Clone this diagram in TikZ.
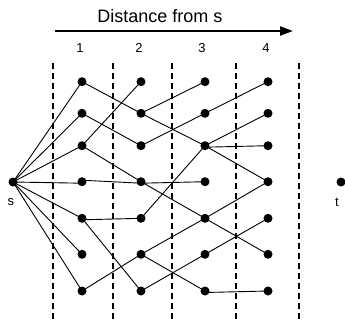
\documentclass[tikz,border=0pt]{standalone}
\usepackage{fontspec}
\setmainfont{Liberation Sans}
\usetikzlibrary{arrows.meta,backgrounds}
\begin{document}
\begin{tikzpicture}[x=1pt,y=-1pt,
  dot/.style={circle,fill=black,inner sep=0pt,minimum size=9pt},
  edge/.style={line width=0.9pt},
  sep/.style={line width=1.3pt,dash pattern=on 6pt off 4pt},
  lab/.style={font=\fontsize{13}{15}\selectfont,inner sep=0pt},
  title/.style={font=\fontsize{18}{20}\selectfont,inner sep=0pt,anchor=base}]
\useasboundingbox (0,0) rectangle (345,322);
% title arrow
\node[title] (ttl) at (160,22.7) {Distance from s};
\coordinate (a0) at (55,31);
\coordinate (a1) at (293,31);
\draw[line width=2pt,-{Triangle[length=13pt,width=9pt]}] (a0) -- (a1);
% column labels
\node[lab] (l1) at (80,48) {1};
\node[lab] (l2) at (139,48) {2};
\node[lab] (l3) at (202,48) {3};
\node[lab] (l4) at (266,48) {4};
% dashed separators
\foreach \i/\x in {1/53,2/113,3/172,4/236,5/299}{
  \coordinate (d\i t) at (\x,63);
  \coordinate (d\i b) at (\x,320);
  \draw[sep] (d\i t) -- (d\i b);
}
% nodes
\node[dot] (s) at (13,182) {};
\node[dot] (t) at (341,182) {};
\node[lab] (sl) at (11,202) {s};
\node[lab] (tl) at (337,202) {t};
\foreach \c/\x in {1/82,2/141,3/205,4/268}{
  \foreach \r/\y in {1/81.7,2/113.3,3/145.7,4/181.7,5/218.3,6/254.3,7/291}{
    \node[dot] (n\c\r) at (\x,\y) {};
  }
}
% edges
\begin{scope}[on background layer]
\foreach \r in {1,2,3,5,6,7}{\draw[edge] (s.center) -- (n1\r.center);}
\draw[edge] (s.center) -- ([yshift=-1.5pt]n14.center);
\draw[edge] ([yshift=1.5pt]n14.center) -- ([yshift=-1.5pt]n24.center);
\draw[edge] ([yshift=-1.5pt]n24.center) -- (n34.center);
\draw[edge] ([yshift=-1.5pt]n15.center) -- (n25.center);
\draw[edge] ([yshift=-1.5pt]n33.center) -- (n43.center);
\draw[edge] ([yshift=-1.5pt]n37.center) -- (n47.center);
\foreach \a/\b in {11/22,12/23,13/21,13/24,15/27,17/26,
                   22/31,22/33,23/32,24/35,25/33,26/35,26/37,27/36,
                   32/41,33/42,33/44,35/44,35/46,36/45}{
  \draw[edge] (n\a.center) -- (n\b.center);
}
\end{scope}
\end{tikzpicture}
\end{document}
